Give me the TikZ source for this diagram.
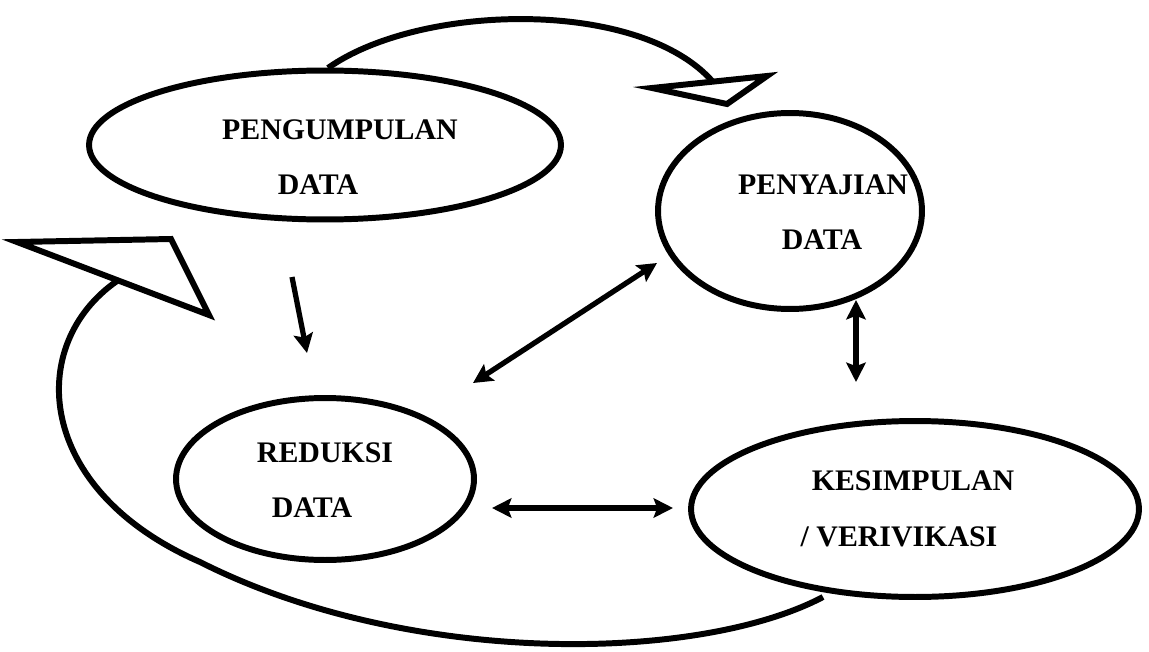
\documentclass[tikz,border=0pt]{standalone}
\usepackage{fontspec}
\setmainfont{Liberation Serif}
\usetikzlibrary{arrows.meta, positioning, shapes.geometric}

\begin{document}
\begin{tikzpicture}[x=0.02cm, y=-0.02cm, line width=3.4pt,
    >={Stealth[length=11pt, width=11pt, inset=2pt]},
    stage/.style={draw, ellipse, inner sep=0pt},
    lbl/.style={font=\fontsize{17}{20}\selectfont\bfseries, inner sep=0pt},
    link/.style={line width=3pt},
    opentip/.style={draw, fill=white, line join=miter}]
    \useasboundingbox (0,0) rectangle (1149,652);
    % the four stages
    \node[stage, minimum width=9.44cm, minimum height=2.98cm] (kumpul) at (325,145) {};
    \node[stage, minimum width=5.28cm, minimum height=3.92cm] (sajian) at (790,211) {};
    \node[stage, minimum width=5.96cm, minimum height=3.24cm] (reduksi) at (325,479) {};
    \node[stage, minimum width=8.96cm, minimum height=3.52cm] (simpul) at (915,509) {};
    \node[lbl] (kumpulA) at (340,130) {PENGUMPULAN};
    \node[lbl] (kumpulB) at (318,185) {DATA};
    \node[lbl] (sajianA) at (823,185) {PENYAJIAN};
    \node[lbl] (sajianB) at (822,240) {DATA};
    \node[lbl] (reduksiA) at (325,453) {REDUKSI};
    \node[lbl] (reduksiB) at (312,508) {DATA};
    \node[lbl] (simpulA) at (913,481) {KESIMPULAN};
    \node[lbl] (simpulB) at (899,537) {/ VERIVIKASI};
    % straight arrows
    \coordinate (kumpulOut) at (292,277);
    \coordinate (reduksiIn) at (307,353);
    \coordinate (reduksiNE) at (473,383);
    \coordinate (sajianSW) at (657,263);
    \coordinate (sajianS) at (856,300);
    \coordinate (simpulN) at (856,382);
    \coordinate (reduksiE) at (492,508);
    \coordinate (simpulW) at (673,508);
    \draw[link, ->] (kumpulOut) -- (reduksiIn);
    \draw[link, <->] (reduksiNE) -- (sajianSW);
    \draw[link, <->] (sajianS) -- (simpulN);
    \draw[link, <->] (reduksiE) -- (simpulW);
    % curved arrows with open heads
    \coordinate (topStart) at (328,68);
    \coordinate (topEnd) at (713,82);
    \coordinate (loopStart) at (117,281);
    \coordinate (loopEnd) at (823,597);
    \draw (topStart) .. controls (420,3) and (640,-2) .. (topEnd);
    \draw[opentip] (652,88) -- (767,76) -- (727,104) -- cycle;
    \draw (loopStart) .. controls (25,345) and (35,490) .. (200,562)
        .. controls (410,668) and (700,662) .. (loopEnd);
    \draw[opentip] (17,242) -- (171,239) -- (209,315) -- cycle;
\end{tikzpicture}
\end{document}
